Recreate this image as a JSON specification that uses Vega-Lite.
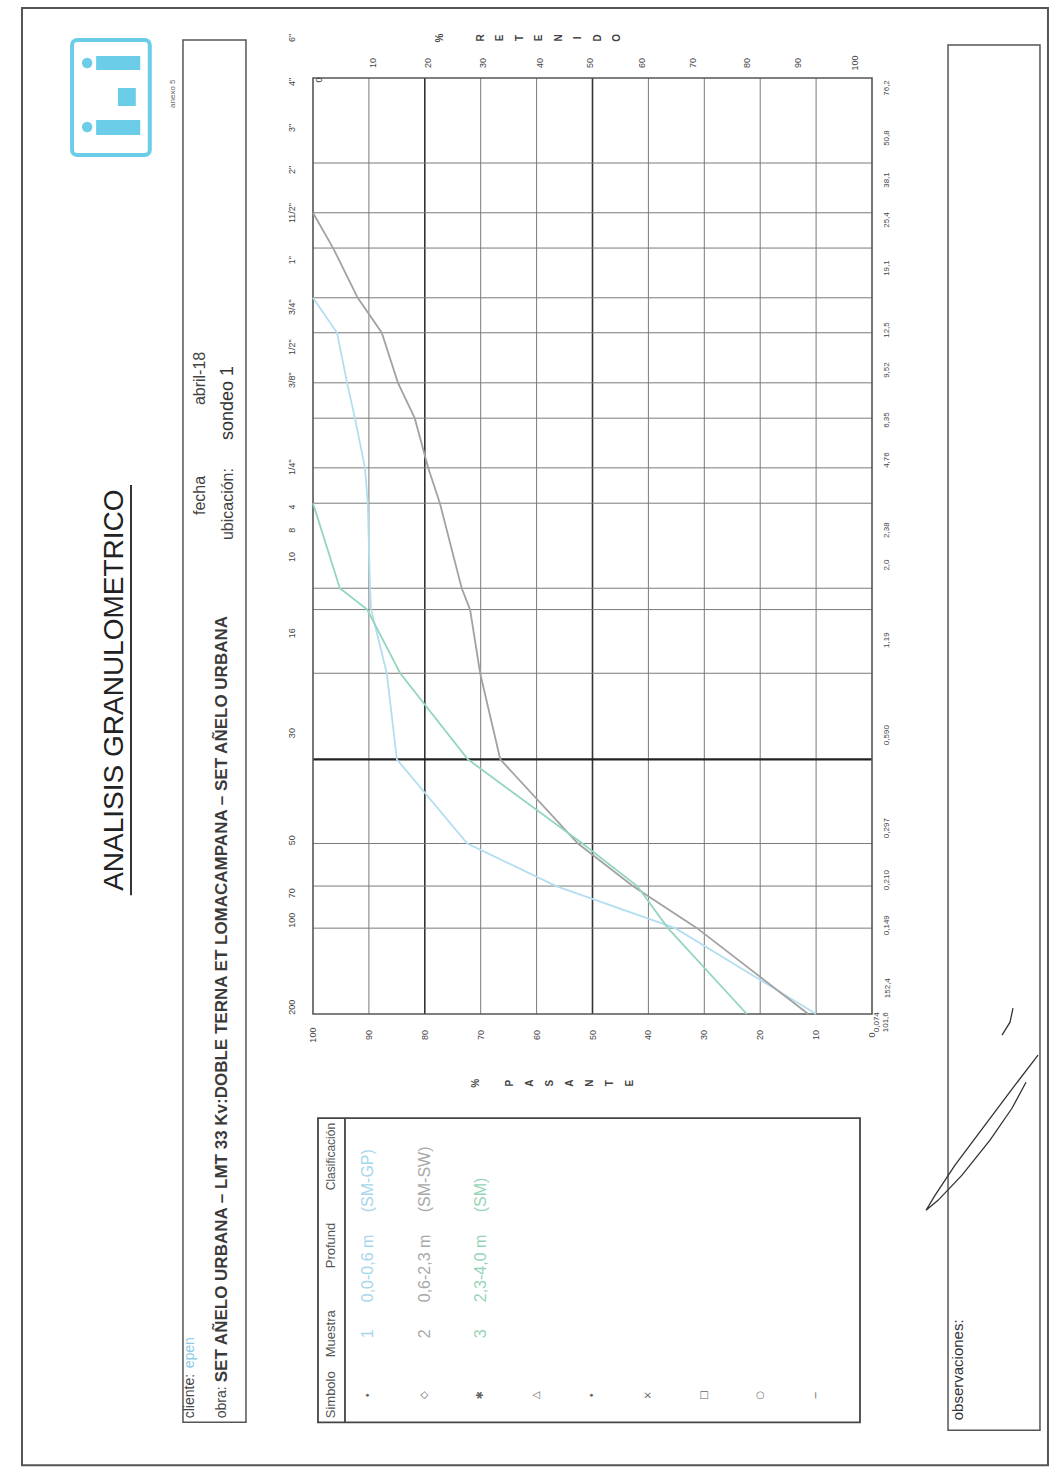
{
  "$schema": "https://vega.github.io/schema/vega-lite/v6.json",
  "width": 559,
  "height": 936,
  "autosize": {"type": "none"},
  "padding": {"left": 313, "top": 78, "right": 187, "bottom": 456},
  "background": "white",
  "config": {"view": {"stroke": null}, "axis": {"disable": true}, "font": "Liberation Sans", "text": {"font": "Liberation Sans"}},
  "data": {"values": [{}]},
  "datasets": {
    "vgrid": [{"pasante": 10}, {"pasante": 20}, {"pasante": 30}, {"pasante": 40}, {"pasante": 60}, {"pasante": 70}, {"pasante": 90}],
    "vgridBold": [{"pasante": 80}, {"pasante": 50}],
    "hgrid": [{"mm": 76.2}, {"mm": 50.8}, {"mm": 38.1}, {"mm": 25.4}, {"mm": 19.1}, {"mm": 12.7}, {"mm": 9.52}, {"mm": 6.35}, {"mm": 4.76}, {"mm": 2.38}, {"mm": 2.0}, {"mm": 1.19}, {"mm": 0.297}, {"mm": 0.21}, {"mm": 0.149}],
    "hgridBold": [{"mm": 0.59}],
    "curvas": [
      {"muestra": "1", "mm": 25.4, "pasante": 100},
      {"muestra": "1", "mm": 19.1, "pasante": 95.7},
      {"muestra": "1", "mm": 12.7, "pasante": 93.9},
      {"muestra": "1", "mm": 9.52, "pasante": 92.5},
      {"muestra": "1", "mm": 6.35, "pasante": 90.7},
      {"muestra": "1", "mm": 4.76, "pasante": 90.2},
      {"muestra": "1", "mm": 2.38, "pasante": 89.8},
      {"muestra": "1", "mm": 2.0, "pasante": 89.6},
      {"muestra": "1", "mm": 1.19, "pasante": 86.8},
      {"muestra": "1", "mm": 0.59, "pasante": 85.0},
      {"muestra": "1", "mm": 0.297, "pasante": 72.4},
      {"muestra": "1", "mm": 0.21, "pasante": 56.5},
      {"muestra": "1", "mm": 0.149, "pasante": 35.2},
      {"muestra": "1", "mm": 0.074, "pasante": 10.0},
      {"muestra": "2", "mm": 50.8, "pasante": 100},
      {"muestra": "2", "mm": 38.1, "pasante": 96.4},
      {"muestra": "2", "mm": 25.4, "pasante": 92.0},
      {"muestra": "2", "mm": 19.1, "pasante": 87.7},
      {"muestra": "2", "mm": 12.7, "pasante": 84.8},
      {"muestra": "2", "mm": 9.52, "pasante": 81.8},
      {"muestra": "2", "mm": 6.35, "pasante": 79.4},
      {"muestra": "2", "mm": 4.76, "pasante": 77.3},
      {"muestra": "2", "mm": 2.38, "pasante": 73.4},
      {"muestra": "2", "mm": 2.0, "pasante": 71.9},
      {"muestra": "2", "mm": 1.19, "pasante": 70.1},
      {"muestra": "2", "mm": 0.59, "pasante": 66.5},
      {"muestra": "2", "mm": 0.297, "pasante": 52.6},
      {"muestra": "2", "mm": 0.21, "pasante": 42.8},
      {"muestra": "2", "mm": 0.149, "pasante": 31.3},
      {"muestra": "2", "mm": 0.074, "pasante": 11.4},
      {"muestra": "3", "mm": 4.76, "pasante": 100},
      {"muestra": "3", "mm": 2.38, "pasante": 95.2},
      {"muestra": "3", "mm": 2.0, "pasante": 90.3},
      {"muestra": "3", "mm": 1.19, "pasante": 84.4},
      {"muestra": "3", "mm": 0.59, "pasante": 72.3},
      {"muestra": "3", "mm": 0.297, "pasante": 51.8},
      {"muestra": "3", "mm": 0.21, "pasante": 42.0},
      {"muestra": "3", "mm": 0.149, "pasante": 36.5},
      {"muestra": "3", "mm": 0.074, "pasante": 22.4}
    ],
    "tamices": [
      {"label": "6\"", "mm": 211.2}, {"label": "4\"", "mm": 147.5}, {"label": "3\"", "mm": 101.4}, {"label": "2\"", "mm": 71.98},
      {"label": "11/2\"", "mm": 50.69}, {"label": "1\"", "mm": 34.55}, {"label": "3/4\"", "mm": 23.55}, {"label": "1/2\"", "mm": 16.99},
      {"label": "3/8\"", "mm": 12.99}, {"label": "1/4\"", "mm": 6.391}, {"label": "4", "mm": 4.613}, {"label": "8", "mm": 3.822},
      {"label": "10", "mm": 3.068}, {"label": "16", "mm": 1.65}, {"label": "30", "mm": 0.7305}, {"label": "50", "mm": 0.3053},
      {"label": "70", "mm": 0.1982}, {"label": "100", "mm": 0.159}, {"label": "200", "mm": 0.07826}
    ],
    "aberturas": [
      {"label": "76,2", "mm": 140.5}, {"label": "50,8", "mm": 93.4}, {"label": "38,1", "mm": 66.34}, {"label": "25,4", "mm": 47.89},
      {"label": "19,1", "mm": 32.37}, {"label": "12,5", "mm": 19.53}, {"label": "9,52", "mm": 14.09}, {"label": "6,35", "mm": 9.376},
      {"label": "4,76", "mm": 6.767}, {"label": "2,38", "mm": 3.822}, {"label": "2,0", "mm": 2.875}, {"label": "1,19", "mm": 1.559},
      {"label": "0,590", "mm": 0.7187}, {"label": "0,297", "mm": 0.3366}, {"label": "0,210", "mm": 0.2204}, {"label": "0,149", "mm": 0.1526}
    ],
    "retenido": [
      {"label": "10", "pasante": 89.27}, {"label": "20", "pasante": 79.43}, {"label": "30", "pasante": 69.59}, {"label": "40", "pasante": 59.39},
      {"label": "50", "pasante": 50.45}, {"label": "60", "pasante": 41.14}, {"label": "70", "pasante": 32.02}, {"label": "80", "pasante": 22.36},
      {"label": "90", "pasante": 13.24}, {"label": "100", "pasante": 3.04}
    ],
    "pasanteLabels": [{"pasante": 100}, {"pasante": 90}, {"pasante": 80}, {"pasante": 70}, {"pasante": 60}, {"pasante": 50}, {"pasante": 40}, {"pasante": 30}, {"pasante": 20}, {"pasante": 10}, {"pasante": 0}],
    "firma": [
      {"trazo": "a", "orden": 1, "pasante": -29.7, "mm": 0.05289},
      {"trazo": "a", "orden": 2, "pasante": -25.58, "mm": 0.04141},
      {"trazo": "a", "orden": 3, "pasante": -20.21, "mm": 0.02989},
      {"trazo": "a", "orden": 4, "pasante": -14.85, "mm": 0.02157},
      {"trazo": "a", "orden": 5, "pasante": -11.27, "mm": 0.01688},
      {"trazo": "a", "orden": 6, "pasante": -9.66, "mm": 0.014944},
      {"trazo": "a", "orden": 7, "pasante": -11.81, "mm": 0.0162},
      {"trazo": "a", "orden": 8, "pasante": -16.1, "mm": 0.01989},
      {"trazo": "a", "orden": 9, "pasante": -21.11, "mm": 0.02645},
      {"trazo": "a", "orden": 10, "pasante": -25.04, "mm": 0.03432},
      {"trazo": "a", "orden": 11, "pasante": -27.55, "mm": 0.04244},
      {"trazo": "b", "orden": 1, "pasante": -23.26, "mm": 0.06226},
      {"trazo": "b", "orden": 2, "pasante": -24.69, "mm": 0.06921},
      {"trazo": "b", "orden": 3, "pasante": -25.22, "mm": 0.07756}
    ]
  },
  "layer": [
    {"mark": {"type": "rect", "filled": false, "stroke": "#555555", "strokeWidth": 2},
     "encoding": {"x": {"datum": 152.06}, "x2": {"datum": -31.48}, "y": {"datum": 269.8}, "y2": {"datum": 0.001868}}},

    {"data": {"name": "vgrid"}, "mark": {"type": "rule", "color": "#7a7a7a", "strokeWidth": 1},
     "encoding": {"x": {"field": "pasante", "type": "quantitative", "scale": {"domain": [0, 100], "reverse": true, "nice": false, "zero": false}, "axis": null}}},
    {"data": {"name": "vgridBold"}, "mark": {"type": "rule", "color": "#333333", "strokeWidth": 1.6},
     "encoding": {"x": {"field": "pasante", "type": "quantitative", "axis": null}}},
    {"data": {"name": "hgrid"}, "mark": {"type": "rule", "color": "#7a7a7a", "strokeWidth": 1},
     "encoding": {"y": {"field": "mm", "type": "quantitative", "scale": {"type": "log", "domain": [0.074, 152.4], "nice": false}, "axis": null}}},
    {"data": {"name": "hgridBold"}, "mark": {"type": "rule", "color": "#222222", "strokeWidth": 2.2},
     "encoding": {"y": {"field": "mm", "type": "quantitative", "axis": null}}},
    {"mark": {"type": "rect", "filled": false, "stroke": "#555555", "strokeWidth": 1.6},
     "encoding": {"x": {"datum": 100}, "x2": {"datum": 0}, "y": {"datum": 152.4}, "y2": {"datum": 0.074}}},

    {"data": {"name": "curvas"}, "mark": {"type": "line", "strokeWidth": 1.8},
     "encoding": {"x": {"field": "pasante", "type": "quantitative", "axis": null}, "y": {"field": "mm", "type": "quantitative", "axis": null},
       "color": {"field": "muestra", "type": "nominal", "scale": {"domain": ["1", "2", "3"], "range": ["#b3def0", "#a2a2a2", "#93d6be"]}, "legend": null},
       "order": {"field": "mm", "type": "quantitative"}}},

    {"mark": {"type": "rect", "filled": false, "stroke": "#6ccde8", "strokeWidth": 4, "cornerRadius": 5},
     "encoding": {"x": {"datum": 143.1}, "x2": {"datum": 129.2}, "y": {"datum": 207.8}, "y2": {"datum": 81.35}}},
    {"mark": {"type": "rect", "color": "#6ccde8"},
     "encoding": {"x": {"datum": 138.8}, "x2": {"datum": 130.9}, "y": {"datum": 182.3}, "y2": {"datum": 162.7}}},
    {"mark": {"type": "rect", "color": "#6ccde8"},
     "encoding": {"x": {"datum": 134.9}, "x2": {"datum": 131.7}, "y": {"datum": 140.5}, "y2": {"datum": 121.3}}},
    {"mark": {"type": "rect", "color": "#6ccde8"},
     "encoding": {"x": {"datum": 138.8}, "x2": {"datum": 130.9}, "y": {"datum": 108.2}, "y2": {"datum": 95.75}}},
    {"mark": {"type": "circle", "color": "#6ccde8", "size": 110, "opacity": 1},
     "encoding": {"x": {"datum": 140.4}, "y": {"datum": 172.2}}},
    {"mark": {"type": "circle", "color": "#6ccde8", "size": 110, "opacity": 1},
     "encoding": {"x": {"datum": 140.4}, "y": {"datum": 102.2}}},
    {"mark": {"type": "text", "angle": 270, "align": "left", "baseline": "middle", "fontSize": 8, "color": "#666666"},
     "encoding": {"x": {"datum": 125.04}, "y": {"datum": 119.4}, "text": {"value": "anexo   5"}}},

    {"mark": {"type": "text", "angle": 270, "align": "center", "baseline": "middle", "fontSize": 28, "color": "#222222"},
     "encoding": {"x": {"datum": 135.42}, "y": {"datum": 1.037}, "text": {"value": "ANALISIS GRANULOMETRICO"}}},
    {"mark": {"type": "rule", "color": "#333333", "strokeWidth": 2},
     "encoding": {"x": {"datum": 132.56}, "y": {"datum": 5.517}, "y2": {"datum": 0.1949}}},

    {"mark": {"type": "rect", "filled": false, "stroke": "#555555", "strokeWidth": 1.5},
     "encoding": {"x": {"datum": 123.26}, "x2": {"datum": 111.99}, "y": {"datum": 207.8}, "y2": {"datum": 0.002653}}},
    {"mark": {"type": "text", "angle": 270, "align": "left", "baseline": "middle", "fontSize": 14, "color": "#444444"},
     "encoding": {"x": {"datum": 122.0}, "y": {"datum": 0.002742}, "text": {"value": "cliente:"}}},
    {"mark": {"type": "text", "angle": 270, "align": "left", "baseline": "middle", "fontSize": 14, "color": "#8ccae8"},
     "encoding": {"x": {"datum": 122.0}, "y": {"datum": 0.004121}, "text": {"value": "epen"}}},
    {"mark": {"type": "text", "angle": 270, "align": "left", "baseline": "middle", "fontSize": 14, "color": "#444444"},
     "encoding": {"x": {"datum": 116.28}, "y": {"datum": 0.002742}, "text": {"value": "obra:"}}},
    {"mark": {"type": "text", "angle": 270, "align": "left", "baseline": "middle", "fontSize": 17, "fontWeight": "bold", "color": "#3a3a3a"},
     "encoding": {"x": {"datum": 116.28}, "y": {"datum": 0.003676}, "text": {"value": "SET AÑELO URBANA – LMT 33 Kv:DOBLE TERNA ET LOMACAMPANA – SET AÑELO URBANA"}}},
    {"mark": {"type": "text", "angle": 270, "align": "left", "baseline": "middle", "fontSize": 16, "color": "#444444"},
     "encoding": {"x": {"datum": 120.21}, "y": {"datum": 4.322}, "text": {"value": "fecha"}}},
    {"mark": {"type": "text", "angle": 270, "align": "left", "baseline": "middle", "fontSize": 16, "color": "#444444"},
     "encoding": {"x": {"datum": 120.21}, "y": {"datum": 10.59}, "text": {"value": "abril-18"}}},
    {"mark": {"type": "text", "angle": 270, "align": "left", "baseline": "middle", "fontSize": 16, "color": "#444444"},
     "encoding": {"x": {"datum": 115.21}, "y": {"datum": 3.524}, "text": {"value": "ubicación:"}}},
    {"mark": {"type": "text", "angle": 270, "align": "left", "baseline": "middle", "fontSize": 18, "color": "#333333"},
     "encoding": {"x": {"datum": 115.21}, "y": {"datum": 7.962}, "text": {"value": "sondeo 1"}}},

    {"data": {"name": "tamices"}, "mark": {"type": "text", "angle": 270, "align": "center", "baseline": "middle", "fontSize": 9, "color": "#444444"},
     "encoding": {"x": {"datum": 103.76}, "y": {"field": "mm", "type": "quantitative", "axis": null}, "text": {"field": "label"}}},
    {"data": {"name": "aberturas"}, "mark": {"type": "text", "angle": 270, "align": "center", "baseline": "middle", "fontSize": 8, "color": "#444444"},
     "encoding": {"x": {"datum": -2.68}, "y": {"field": "mm", "type": "quantitative", "axis": null}, "text": {"field": "label"}}},
    {"mark": {"type": "text", "angle": 270, "align": "center", "baseline": "middle", "fontSize": 8, "color": "#444444", "lineHeight": 9},
     "encoding": {"x": {"datum": -0.9}, "y": {"datum": 0.06921}, "text": {"value": ["0,074", "101,6"]}}},
    {"mark": {"type": "text", "angle": 270, "align": "center", "baseline": "middle", "fontSize": 8, "color": "#444444"},
     "encoding": {"x": {"datum": -2.86}, "y": {"datum": 0.09133}, "text": {"value": "152,4"}}},
    {"data": {"name": "retenido"}, "mark": {"type": "text", "angle": 270, "align": "center", "baseline": "middle", "fontSize": 9, "color": "#444444"},
     "encoding": {"x": {"field": "pasante", "type": "quantitative", "axis": null}, "y": {"datum": 172.2}, "text": {"field": "label"}}},
    {"mark": {"type": "text", "angle": 270, "align": "center", "baseline": "middle", "fontSize": 9, "color": "#444444"},
     "encoding": {"x": {"datum": 98.93}, "y": {"datum": 149.9}, "text": {"value": "0"}}},
    {"data": {"name": "pasanteLabels"}, "mark": {"type": "text", "angle": 270, "align": "center", "baseline": "middle", "fontSize": 9, "color": "#444444"},
     "encoding": {"x": {"field": "pasante", "type": "quantitative", "axis": null}, "y": {"datum": 0.0623}, "text": {"field": "pasante", "type": "quantitative"}}},
    {"mark": {"type": "text", "angle": 270, "align": "center", "baseline": "middle", "fontSize": 10, "fontWeight": "bold", "color": "#444444"},
     "encoding": {"x": {"datum": 77.28}, "y": {"datum": 211.2}, "text": {"value": "%"}}},
    {"mark": {"type": "text", "angle": 270, "align": "center", "baseline": "middle", "fontSize": 10, "fontWeight": "bold", "color": "#444444", "lineHeight": 19.5},
     "encoding": {"x": {"datum": 69.95}, "y": {"datum": 211.2}, "text": {"value": ["R", "E", "T", "E", "N", "I", "D", "O"]}}},
    {"mark": {"type": "text", "angle": 270, "align": "center", "baseline": "middle", "fontSize": 10, "fontWeight": "bold", "color": "#444444"},
     "encoding": {"x": {"datum": 70.84}, "y": {"datum": 0.0421}, "text": {"value": "%"}}},
    {"mark": {"type": "text", "angle": 270, "align": "center", "baseline": "middle", "fontSize": 10, "fontWeight": "bold", "color": "#444444", "lineHeight": 20},
     "encoding": {"x": {"datum": 64.76}, "y": {"datum": 0.0421}, "text": {"value": ["P", "A", "S", "A", "N", "T", "E"]}}},

    {"mark": {"type": "rect", "filled": false, "stroke": "#444444", "strokeWidth": 1.8},
     "encoding": {"x": {"datum": 99.11}, "x2": {"datum": 2.15}, "y": {"datum": 0.03165}, "y2": {"datum": 0.002653}}},
    {"mark": {"type": "rule", "color": "#444444", "strokeWidth": 1.8},
     "encoding": {"x": {"datum": 94.28}, "y": {"datum": 0.03165}, "y2": {"datum": 0.002653}}},
    {"mark": {"type": "text", "angle": 270, "align": "left", "baseline": "middle", "fontSize": 13, "color": "#555555"},
     "encoding": {"x": {"datum": 96.78}, "y": {"datum": 0.002742}, "text": {"value": "Simbolo"}}},
    {"mark": {"type": "text", "angle": 270, "align": "left", "baseline": "middle", "fontSize": 13, "color": "#555555"},
     "encoding": {"x": {"datum": 96.78}, "y": {"datum": 0.004508}, "text": {"value": "Muestra"}}},
    {"mark": {"type": "text", "angle": 270, "align": "left", "baseline": "middle", "fontSize": 13, "color": "#555555"},
     "encoding": {"x": {"datum": 96.78}, "y": {"datum": 0.00931}, "text": {"value": "Profund"}}},
    {"mark": {"type": "text", "angle": 270, "align": "left", "baseline": "middle", "fontSize": 12, "color": "#555555"},
     "encoding": {"x": {"datum": 96.78}, "y": {"datum": 0.01759}, "text": {"value": "Clasificación"}}},
    {"mark": {"type": "text", "angle": 270, "align": "center", "baseline": "middle", "fontSize": 10, "font": "DejaVu Sans", "color": "#666666", "lineHeight": 56},
     "encoding": {"x": {"datum": 90.16}, "y": {"datum": 0.003307}, "text": {"value": ["•", "◇", "✱", "△", "•", "×", "□", "○", "−"]}}},

    {"mark": {"type": "text", "angle": 270, "align": "left", "baseline": "middle", "fontSize": 16, "color": "#a6d6ec"},
     "encoding": {"x": {"datum": 90.16}, "y": {"datum": 0.005261}, "text": {"value": "1"}}},
    {"mark": {"type": "text", "angle": 270, "align": "left", "baseline": "middle", "fontSize": 16, "color": "#a6d6ec"},
     "encoding": {"x": {"datum": 90.16}, "y": {"datum": 0.007059}, "text": {"value": "0,0-0,6 m"}}},
    {"mark": {"type": "text", "angle": 270, "align": "left", "baseline": "middle", "fontSize": 16, "color": "#a6d6ec"},
     "encoding": {"x": {"datum": 90.16}, "y": {"datum": 0.014702}, "text": {"value": "(SM-GP)"}}},
    {"mark": {"type": "text", "angle": 270, "align": "left", "baseline": "middle", "fontSize": 16, "color": "#a8a8a8"},
     "encoding": {"x": {"datum": 79.96}, "y": {"datum": 0.005261}, "text": {"value": "2"}}},
    {"mark": {"type": "text", "angle": 270, "align": "left", "baseline": "middle", "fontSize": 16, "color": "#a8a8a8"},
     "encoding": {"x": {"datum": 79.96}, "y": {"datum": 0.007059}, "text": {"value": "0,6-2,3 m"}}},
    {"mark": {"type": "text", "angle": 270, "align": "left", "baseline": "middle", "fontSize": 16, "color": "#a8a8a8"},
     "encoding": {"x": {"datum": 79.96}, "y": {"datum": 0.014702}, "text": {"value": "(SM-SW)"}}},
    {"mark": {"type": "text", "angle": 270, "align": "left", "baseline": "middle", "fontSize": 16, "color": "#96d4b6"},
     "encoding": {"x": {"datum": 69.95}, "y": {"datum": 0.005261}, "text": {"value": "3"}}},
    {"mark": {"type": "text", "angle": 270, "align": "left", "baseline": "middle", "fontSize": 16, "color": "#96d4b6"},
     "encoding": {"x": {"datum": 69.95}, "y": {"datum": 0.007059}, "text": {"value": "2,3-4,0 m"}}},
    {"mark": {"type": "text", "angle": 270, "align": "left", "baseline": "middle", "fontSize": 16, "color": "#96d4b6"},
     "encoding": {"x": {"datum": 69.95}, "y": {"datum": 0.014702}, "text": {"value": "(SM)"}}},

    {"mark": {"type": "rect", "filled": false, "stroke": "#555555", "strokeWidth": 1.5},
     "encoding": {"x": {"datum": -13.6}, "x2": {"datum": -30.05}, "y": {"datum": 199.5}, "y2": {"datum": 0.002485}}},
    {"mark": {"type": "text", "angle": 270, "align": "left", "baseline": "middle", "fontSize": 15, "color": "#333333"},
     "encoding": {"x": {"datum": -15.38}, "y": {"datum": 0.002697}, "text": {"value": "observaciones:"}}},

    {"data": {"name": "firma"}, "mark": {"type": "line", "color": "#333333", "strokeWidth": 1.3},
     "encoding": {"x": {"field": "pasante", "type": "quantitative", "axis": null}, "y": {"field": "mm", "type": "quantitative", "axis": null},
       "detail": {"field": "trazo", "type": "nominal"}, "order": {"field": "orden", "type": "quantitative"}}}
  ]
}
